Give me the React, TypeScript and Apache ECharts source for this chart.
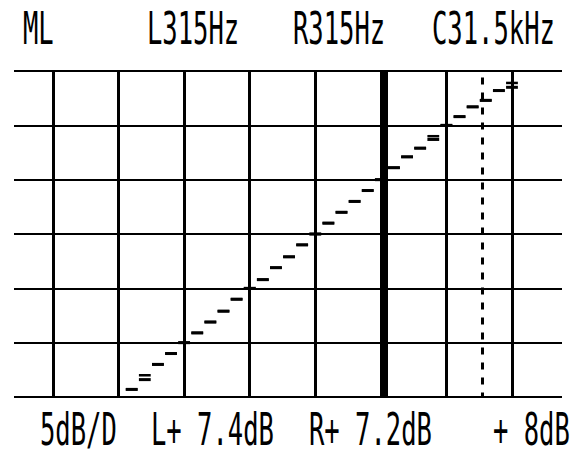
import React, { useEffect, useRef } from "react";
import * as echarts from "echarts";

// Step positions (in grid divisions) and measured levels (dB) of the staircase
const stepX = [1.2, 1.4, 1.6, 1.8, 2.0, 2.2, 2.4, 2.6, 2.8, 3.0, 3.2, 3.4, 3.6, 3.8, 4.0, 4.2, 4.4, 4.6, 4.8, 5.0, 5.2, 5.4, 5.6, 5.8, 6.0, 6.2, 6.4, 6.6, 6.8, 7.0];
const levelsL = [0.7, 1.6, 3.0, 4.0, 5.0, 5.9, 6.9, 7.9, 9.0, 10.0, 10.8, 11.9, 12.9, 14.0, 15.0, 16.0, 17.0, 18.0, 19.0, 20.0, 21.1, 22.1, 22.9, 23.7, 25.0, 25.8, 26.7, 27.3, 28.2, 28.5];
const levelsR = [0.7, 2.0, 3.0, 4.0, 5.0, 5.9, 6.9, 7.9, 9.0, 10.0, 10.8, 11.9, 12.9, 14.0, 15.0, 16.0, 17.0, 18.0, 19.0, 20.0, 21.1, 22.1, 22.9, 24.0, 25.0, 25.8, 26.7, 27.3, 28.2, 28.9];

// Vertical grid divisions, markers
const divisions = [0, 1, 2, 3, 4, 5, 6, 7];
const markerX = 5.04;
const cursorX = 6.54;
const cursorTop = 29.4;

// Axis ranges
const X_MIN = -0.595;
const X_MAX = 7.763;
const Y_MIN = 0;
const Y_MAX = 30;
const Y_STEP = 5;

// Texts
const topLabels = ["ML", "L315Hz", "R315Hz", "C31.5kHz"];
const bottomLabels = ["5dB/D", "L+ 7.4dB", "R+ 7.2dB", "+ 8dB"];
const topLabelX = [23, 147, 293, 432];
const bottomLabelX = [40, 151, 309, 493];

const FONT = '44px "DejaVu Sans Mono", "Liberation Mono", monospace';
const SCALE_X = 0.58;

function dashRenderer(width: number) {
  return (params: any, api: any) => {
    const u = api.value(0);
    const v = api.value(1);
    const p1 = api.coord([u - 0.09, v]);
    const p2 = api.coord([u + 0.09, v]);
    return {
      type: "line",
      shape: { x1: p1[0], y1: p1[1], x2: p2[0], y2: p2[1] },
      style: { stroke: "#000", lineWidth: width },
    };
  };
}

export default function App() {
  const ref = useRef<HTMLDivElement>(null);
  useEffect(() => {
    if (!ref.current) return;
    const chart = echarts.init(ref.current, undefined, { renderer: "svg" });
    const textEls: any[] = [];
    topLabels.forEach((t, i) => {
      textEls.push({
        type: "text",
        x: topLabelX[i],
        y: 29,
        scaleX: SCALE_X,
        style: { text: t, font: FONT, fill: "#000", textAlign: "left", textVerticalAlign: "middle" },
      });
    });
    bottomLabels.forEach((t, i) => {
      textEls.push({
        type: "text",
        x: bottomLabelX[i],
        y: 430,
        scaleX: SCALE_X,
        style: { text: t, font: FONT, fill: "#000", textAlign: "left", textVerticalAlign: "middle" },
      });
    });

    const markData: any[] = divisions.map((d) => ({ xAxis: d, lineStyle: { color: "#000", width: 3, type: "solid" } }));
    markData.push({ xAxis: markerX, lineStyle: { color: "#000", width: 8, type: "solid" } });
    markData.push([
      { coord: [cursorX, cursorTop], lineStyle: { color: "#000", width: 3, type: [7, 8] } },
      { coord: [cursorX, Y_MIN] },
    ]);

    chart.setOption({
      animation: false,
      backgroundColor: "#fff",
      grid: { left: 14, right: 18, top: 71, bottom: 61, outerBoundsMode: "none" },
      xAxis: {
        type: "value",
        min: X_MIN,
        max: X_MAX,
        splitLine: { show: false },
        axisLine: { show: false },
        axisTick: { show: false },
        axisLabel: { show: false },
      },
      yAxis: {
        type: "value",
        min: Y_MIN,
        max: Y_MAX,
        interval: Y_STEP,
        splitLine: { show: true, lineStyle: { color: "#000", width: 2 } },
        axisLine: { show: false },
        axisTick: { show: false },
        axisLabel: { show: false },
      },
      series: [
        {
          type: "line",
          data: [],
          silent: true,
          markLine: {
            silent: true,
            symbol: ["none", "none"],
            label: { show: false },
            data: markData,
          },
        },
        {
          type: "custom",
          name: "L",
          renderItem: dashRenderer(3),
          data: stepX.map((x, i) => [x, levelsL[i]]),
          z: 5,
        },
        {
          type: "custom",
          name: "R",
          renderItem: dashRenderer(2.5),
          data: stepX.map((x, i) => [x, levelsR[i]]),
          z: 5,
        },
      ],
      graphic: textEls,
    });
    return () => chart.dispose();
  }, []);
  return <div ref={ref} style={{ position: "fixed", left: 0, top: 0, width: 580, height: 458 }} />;
}
